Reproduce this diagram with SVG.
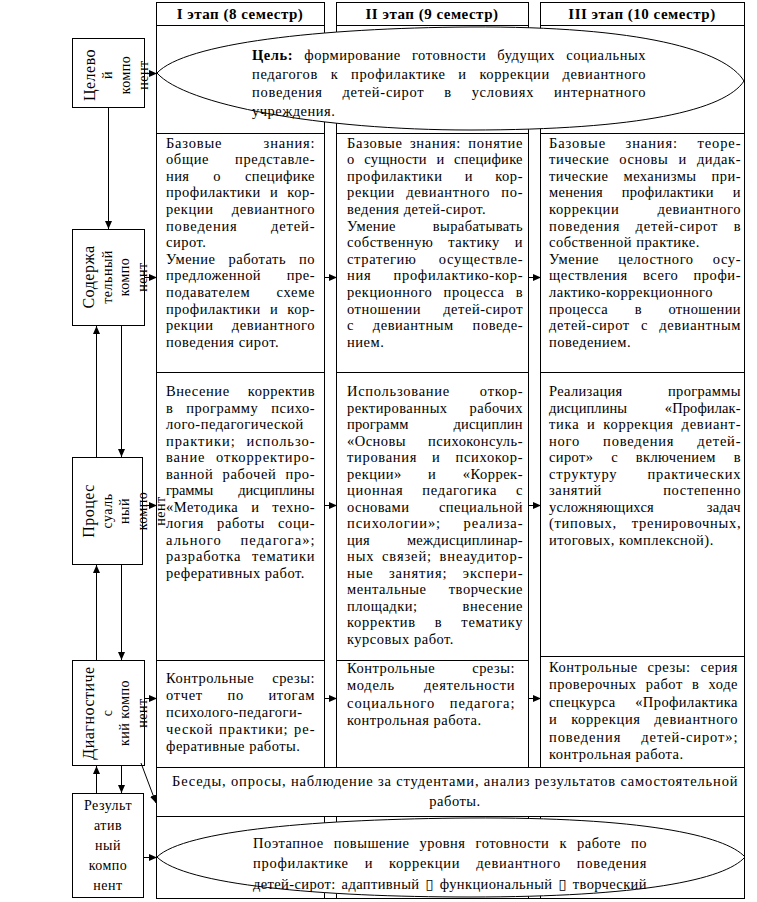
<svg xmlns="http://www.w3.org/2000/svg" width="757" height="902" viewBox="0 0 757 902">
<defs>
<marker id="ah" viewBox="0 0 8 8" refX="8" refY="4" markerWidth="8" markerHeight="8" markerUnits="userSpaceOnUse" orient="auto"><path d="M0,0.5 L8,4 L0,7.5 z" fill="#000"/></marker>
<style>
.bx{fill:#fff;stroke:#000;stroke-width:1}
.el{fill:#fff;stroke:#000;stroke-width:1}
text{font-family:"Liberation Serif","Tinos","DejaVu Serif","Noto Serif",serif;font-weight:normal;font-style:normal}
.b{font-size:14.5px;letter-spacing:0.5px;fill:#000}
.h{font-size:15px;font-weight:bold;letter-spacing:0.5px;fill:#000;text-anchor:middle}
.r1{font-size:16px;letter-spacing:0.5px;fill:#000;text-anchor:middle}
.r2{font-size:14px;letter-spacing:0.5px;fill:#000;text-anchor:middle}
.a{stroke:#000;stroke-width:1;fill:none;marker-end:url(#ah)}
</style>
</defs>
<rect width="757" height="902" fill="#fff"/>

<g id="headers">
<g id="header-1"><rect class="bx" x="156.5" y="2.5" width="168" height="23"/><text class="h" x="240" y="19">I этап (8 семестр)</text></g>
<g id="header-2"><rect class="bx" x="336.5" y="2.5" width="192" height="23"/><text class="h" x="432" y="19">II этап (9 семестр)</text></g>
<g id="header-3"><rect class="bx" x="540.5" y="2.5" width="204" height="23"/><text class="h" x="642" y="19">III этап (10 семестр)</text></g>
</g>

<g id="column-frames">
<rect class="bx" x="156.5" y="25.5" width="168" height="108"/>
<rect class="bx" x="336.5" y="25.5" width="192" height="108"/>
<rect class="bx" x="540.5" y="25.5" width="204" height="108"/>
</g>

<g id="goal">
<path class="el" d="M157,73 C185,43 320,28 470,27 C640,26 725,50 744,81 C725,110 640,130 470,130 C320,130 185,105 157,73 Z"/>
<text class="b" x="252" y="60" textLength="394" lengthAdjust="spacing" style="word-spacing:7px"><tspan style="font-weight:bold">Цель:</tspan> формирование готовности будущих социальных</text>
<text class="b" x="252" y="78.5" textLength="394" lengthAdjust="spacing" style="word-spacing:8.5px">педагогов к профилактике и коррекции девиантного</text>
<text class="b" x="252" y="97" textLength="394" lengthAdjust="spacing" style="word-spacing:15.5px">поведения детей-сирот в условиях интернатного</text>
<text class="b" x="252" y="115.5">учреждения.</text>
</g>

<g id="content-1">
<rect class="bx" x="156.5" y="133.5" width="168" height="239"/>
<text class="b" x="166" y="147.5" textLength="149" lengthAdjust="spacing" style="word-spacing:37px">Базовые знания:</text>
<text class="b" x="166" y="164.1" textLength="149" lengthAdjust="spacing" style="word-spacing:21.7px">общие представле-</text>
<text class="b" x="166" y="180.7" textLength="149" lengthAdjust="spacing" style="word-spacing:20px">ния о специфике</text>
<text class="b" x="166" y="197.3" textLength="149" lengthAdjust="spacing" style="word-spacing:5px">профилактики и кор-</text>
<text class="b" x="166" y="213.9" textLength="149" lengthAdjust="spacing" style="word-spacing:14px">рекции девиантного</text>
<text class="b" x="166" y="230.5" textLength="149" lengthAdjust="spacing" style="word-spacing:29px">поведения детей-</text>
<text class="b" x="166" y="247.1">сирот.</text>
<text class="b" x="166" y="263.7" textLength="149" lengthAdjust="spacing" style="word-spacing:8.8px">Умение работать по</text>
<text class="b" x="166" y="280.3" textLength="149" lengthAdjust="spacing" style="word-spacing:21.7px">предложенной пре-</text>
<text class="b" x="166" y="296.9" textLength="149" lengthAdjust="spacing" style="word-spacing:21.7px">подавателем схеме</text>
<text class="b" x="166" y="313.5" textLength="149" lengthAdjust="spacing" style="word-spacing:5px">профилактики и кор-</text>
<text class="b" x="166" y="330.1" textLength="149" lengthAdjust="spacing" style="word-spacing:14px">рекции девиантного</text>
<text class="b" x="166" y="346.7">поведения сирот.</text>
</g>

<g id="content-2">
<rect class="bx" x="336.5" y="133.5" width="192" height="239"/>
<text class="b" x="347" y="147.5" textLength="176" lengthAdjust="spacing" style="word-spacing:3px">Базовые знания: понятие</text>
<text class="b" x="347" y="164.1" textLength="176" lengthAdjust="spacing" style="word-spacing:5.8px">о сущности и специфике</text>
<text class="b" x="347" y="180.7" textLength="176" lengthAdjust="spacing" style="word-spacing:18px">профилактики и кор-</text>
<text class="b" x="347" y="197.3" textLength="176" lengthAdjust="spacing" style="word-spacing:7px">рекции девиантного по-</text>
<text class="b" x="347" y="213.9">ведения детей-сирот.</text>
<text class="b" x="347" y="230.5" textLength="176" lengthAdjust="spacing" style="word-spacing:33px">Умение вырабатывать</text>
<text class="b" x="347" y="247.1" textLength="176" lengthAdjust="spacing" style="word-spacing:10.7px">собственную тактику и</text>
<text class="b" x="347" y="263.7" textLength="176" lengthAdjust="spacing" style="word-spacing:18px">стратегию осуществле-</text>
<text class="b" x="347" y="280.3" textLength="176" lengthAdjust="spacing" style="word-spacing:18px">ния профилактико-кор-</text>
<text class="b" x="347" y="296.9" textLength="176" lengthAdjust="spacing" style="word-spacing:7px">рекционного процесса в</text>
<text class="b" x="347" y="313.5" textLength="176" lengthAdjust="spacing" style="word-spacing:18px">отношении детей-сирот</text>
<text class="b" x="347" y="330.1" textLength="176" lengthAdjust="spacing" style="word-spacing:14.6px">с девиантным поведе-</text>
<text class="b" x="347" y="346.7">нием.</text>
</g>

<g id="content-3">
<rect class="bx" x="540.5" y="133.5" width="204" height="239"/>
<text class="b" x="549" y="147.5" textLength="192" lengthAdjust="spacing" style="word-spacing:15px">Базовые знания: теоре-</text>
<text class="b" x="549" y="164.1" textLength="192" lengthAdjust="spacing" style="word-spacing:6px">тические основы и дидак-</text>
<text class="b" x="549" y="180.7" textLength="192" lengthAdjust="spacing" style="word-spacing:11px">тические механизмы при-</text>
<text class="b" x="549" y="197.3" textLength="192" lengthAdjust="spacing" style="word-spacing:15px">менения профилактики и</text>
<text class="b" x="549" y="213.9" textLength="192" lengthAdjust="spacing" style="word-spacing:34px">коррекции девиантного</text>
<text class="b" x="549" y="230.5" textLength="192" lengthAdjust="spacing" style="word-spacing:11px">поведения детей-сирот в</text>
<text class="b" x="549" y="247.1">собственной практике.</text>
<text class="b" x="549" y="263.7" textLength="192" lengthAdjust="spacing" style="word-spacing:15px">Умение целостного осу-</text>
<text class="b" x="549" y="280.3" textLength="192" lengthAdjust="spacing" style="word-spacing:11px">ществления всего профи-</text>
<text class="b" x="549" y="296.9">лактико-коррекционного</text>
<text class="b" x="549" y="313.5" textLength="192" lengthAdjust="spacing" style="word-spacing:22.6px">процесса в отношении</text>
<text class="b" x="549" y="330.1" textLength="192" lengthAdjust="spacing" style="word-spacing:7px">детей-сирот с девиантным</text>
<text class="b" x="549" y="346.7">поведением.</text>
</g>

<g id="process-1">
<rect class="bx" x="156.5" y="372.5" width="168" height="288"/>
<text class="b" x="166" y="396" textLength="149" lengthAdjust="spacing" style="word-spacing:14px">Внесение корректив</text>
<text class="b" x="166" y="412.5" textLength="149" lengthAdjust="spacing" style="word-spacing:8.8px">в программу психо-</text>
<text class="b" x="166" y="429">лого-педагогической</text>
<text class="b" x="166" y="445.5" textLength="149" lengthAdjust="spacing" style="word-spacing:6.3px">практики; использо-</text>
<text class="b" x="166" y="462" textLength="149" lengthAdjust="spacing" style="word-spacing:6.3px">вание откорректиро-</text>
<text class="b" x="166" y="478.5" textLength="149" lengthAdjust="spacing" style="word-spacing:5px">ванной рабочей про-</text>
<text class="b" x="166" y="495" textLength="149" lengthAdjust="spacing" style="word-spacing:21.7px">граммы дисциплины</text>
<text class="b" x="166" y="511.5" textLength="149" lengthAdjust="spacing" style="word-spacing:8.8px">«Методика и техно-</text>
<text class="b" x="166" y="528" textLength="149" lengthAdjust="spacing" style="word-spacing:8.8px">логия работы соци-</text>
<text class="b" x="166" y="544.5" textLength="149" lengthAdjust="spacing" style="word-spacing:14px">ального педагога»;</text>
<text class="b" x="166" y="561" textLength="149" lengthAdjust="spacing" style="word-spacing:6.3px">разработка тематики</text>
<text class="b" x="166" y="577.5">реферативных работ.</text>
</g>

<g id="process-2">
<rect class="bx" x="336.5" y="372.5" width="192" height="288"/>
<text class="b" x="347" y="396" textLength="176" lengthAdjust="spacing" style="word-spacing:25.6px">Использование откор-</text>
<text class="b" x="347" y="412.5" textLength="176" lengthAdjust="spacing" style="word-spacing:18px">ректированных рабочих</text>
<text class="b" x="347" y="429" textLength="176" lengthAdjust="spacing" style="word-spacing:41px">программ дисциплин</text>
<text class="b" x="347" y="445.5" textLength="176" lengthAdjust="spacing" style="word-spacing:18px">«Основы психоконсуль-</text>
<text class="b" x="347" y="462" textLength="176" lengthAdjust="spacing" style="word-spacing:10.7px">тирования и психокор-</text>
<text class="b" x="347" y="478.5" textLength="176" lengthAdjust="spacing" style="word-spacing:22.3px">рекции» и «Коррек-</text>
<text class="b" x="347" y="495" textLength="176" lengthAdjust="spacing" style="word-spacing:14.6px">ционная педагогика с</text>
<text class="b" x="347" y="511.5" textLength="176" lengthAdjust="spacing" style="word-spacing:25.6px">основами специальной</text>
<text class="b" x="347" y="528" textLength="176" lengthAdjust="spacing" style="word-spacing:18px">психологии»; реализа-</text>
<text class="b" x="347" y="544.5" textLength="176" lengthAdjust="spacing" style="word-spacing:33px">ция междисциплинар-</text>
<text class="b" x="347" y="561" textLength="176" lengthAdjust="spacing" style="word-spacing:3px">ных связей; внеаудитор-</text>
<text class="b" x="347" y="577.5" textLength="176" lengthAdjust="spacing" style="word-spacing:10.7px">ные занятия; экспери-</text>
<text class="b" x="347" y="594" textLength="176" lengthAdjust="spacing" style="word-spacing:18px">ментальные творческие</text>
<text class="b" x="347" y="610.5" textLength="176" lengthAdjust="spacing" style="word-spacing:41px">площадки; внесение</text>
<text class="b" x="347" y="627" textLength="176" lengthAdjust="spacing" style="word-spacing:14.6px">корректив в тематику</text>
<text class="b" x="347" y="643.5">курсовых работ.</text>
</g>

<g id="process-3">
<rect class="bx" x="540.5" y="372.5" width="204" height="284"/>
<text class="b" x="549" y="396" textLength="192" lengthAdjust="spacing" style="word-spacing:41.6px">Реализация программы</text>
<text class="b" x="549" y="412.5" textLength="192" lengthAdjust="spacing" style="word-spacing:34px">дисциплины «Профилак-</text>
<text class="b" x="549" y="429" textLength="192" lengthAdjust="spacing" style="word-spacing:3.4px">тика и коррекция девиант-</text>
<text class="b" x="549" y="445.5" textLength="192" lengthAdjust="spacing" style="word-spacing:18.7px">ного поведения детей-</text>
<text class="b" x="549" y="462" textLength="192" lengthAdjust="spacing" style="word-spacing:13.7px">сирот» с включением в</text>
<text class="b" x="549" y="478.5" textLength="192" lengthAdjust="spacing" style="word-spacing:26px">структуру практических</text>
<text class="b" x="549" y="495" textLength="192" lengthAdjust="spacing" style="word-spacing:57px">занятий постепенно</text>
<text class="b" x="549" y="511.5" textLength="192" lengthAdjust="spacing" style="word-spacing:49px">усложняющихся задач</text>
<text class="b" x="549" y="528" textLength="192" lengthAdjust="spacing" style="word-spacing:10.8px">(типовых, тренировочных,</text>
<text class="b" x="549" y="544.5">итоговых, комплексной).</text>
</g>

<g id="diag-1">
<rect class="bx" x="156.5" y="660.5" width="168" height="107"/>
<text class="b" x="166" y="683" textLength="149" lengthAdjust="spacing" style="word-spacing:14px">Контрольные срезы:</text>
<text class="b" x="166" y="700" textLength="149" lengthAdjust="spacing" style="word-spacing:20.3px">отчет по итогам</text>
<text class="b" x="166" y="717">психолого-педагоги-</text>
<text class="b" x="166" y="734" textLength="149" lengthAdjust="spacing" style="word-spacing:1px">ческой практики; ре-</text>
<text class="b" x="166" y="751">феративные работы.</text>
</g>

<g id="diag-2">
<rect class="bx" x="336.5" y="660.5" width="192" height="107"/>
<text class="b" x="347" y="673" textLength="168" lengthAdjust="spacing" style="word-spacing:33px">Контрольные срезы:</text>
<text class="b" x="347" y="690.3" textLength="168" lengthAdjust="spacing" style="word-spacing:25px">модель деятельности</text>
<text class="b" x="347" y="707.6" textLength="168" lengthAdjust="spacing" style="word-spacing:10px">социального педагога;</text>
<text class="b" x="347" y="725">контрольная работа.</text>
</g>

<g id="diag-3">
<rect class="bx" x="540.5" y="656.5" width="204" height="111"/>
<text class="b" x="549" y="672" textLength="189" lengthAdjust="spacing" style="word-spacing:5.7px">Контрольные срезы: серия</text>
<text class="b" x="549" y="689.4" textLength="189" lengthAdjust="spacing" style="word-spacing:5px">проверочных работ в ходе</text>
<text class="b" x="549" y="706.8" textLength="189" lengthAdjust="spacing" style="word-spacing:15.5px">спецкурса «Профилактика</text>
<text class="b" x="549" y="724.2" textLength="189" lengthAdjust="spacing" style="word-spacing:9.5px">и коррекция девиантного</text>
<text class="b" x="549" y="741.6" textLength="189" lengthAdjust="spacing" style="word-spacing:15.5px">поведения детей-сирот»;</text>
<text class="b" x="549" y="759">контрольная работа.</text>
</g>

<g id="methods">
<rect class="bx" x="156.5" y="767.5" width="588" height="49"/>
<text class="b" x="455" y="786" text-anchor="middle" textLength="566" lengthAdjust="spacing">Беседы, опросы, наблюдение за студентами, анализ результатов самостоятельной</text>
<text class="b" x="455" y="806" text-anchor="middle">работы.</text>
</g>

<g id="result">
<rect class="bx" x="156.5" y="816.5" width="588" height="82"/>
<rect class="bx" x="156.5" y="816.5" width="168" height="82"/>
<rect class="bx" x="336.5" y="816.5" width="192" height="82"/>
<rect class="bx" x="540.5" y="816.5" width="204" height="82"/>
<path class="el" d="M157,857 C185,830 320,819 470,818 C640,817 725,835 745,857 C725,880 640,897 470,897 C320,897 185,885 157,857 Z"/>
<text class="b" x="253" y="848" textLength="394" lengthAdjust="spacing" style="word-spacing:6px">Поэтапное повышение уровня готовности к работе по</text>
<text class="b" x="253" y="868" textLength="394" lengthAdjust="spacing" style="word-spacing:11.6px">профилактике и коррекции девиантного поведения</text>
<text class="b" x="253" y="889" textLength="394" lengthAdjust="spacing" style="word-spacing:2px">детей-сирот: адаптивный ▯ функциональный ▯ творческий</text>
</g>

<g id="comp-goal">
<rect class="bx" x="72.5" y="38.5" width="72" height="69"/>
<text class="r1" transform="translate(95,75) rotate(-90)">Целево</text>
<text class="r2" transform="translate(112,75) rotate(-90)">й</text>
<text class="r2" transform="translate(130,75) rotate(-90)">компо</text>
<text class="r2" transform="translate(148,75) rotate(-90)">нент</text>
</g>

<g id="comp-content">
<rect class="bx" x="72.5" y="229.5" width="72" height="96"/>
<text class="r1" transform="translate(94,277) rotate(-90)">Содержа</text>
<text class="r2" transform="translate(112,277) rotate(-90)">тельный</text>
<text class="r2" transform="translate(129,277) rotate(-90)">компо</text>
<text class="r2" transform="translate(147,277) rotate(-90)">нент</text>
</g>

<g id="comp-process">
<rect class="bx" x="72.5" y="457.5" width="70" height="107"/>
<text class="r1" transform="translate(94,511) rotate(-90)">Процес</text>
<text class="r2" transform="translate(112,511) rotate(-90)">суаль</text>
<text class="r2" transform="translate(129,511) rotate(-90)">ный</text>
<text class="r2" transform="translate(147,511) rotate(-90)">компо</text>
<text class="r2" transform="translate(165,511) rotate(-90)">нент</text>
</g>

<g id="comp-diag">
<rect class="bx" x="72.5" y="660.5" width="72" height="105"/>
<text class="r1" transform="translate(94,713) rotate(-90)">Диагностиче</text>
<text class="r2" transform="translate(112,713) rotate(-90)">с</text>
<text class="r2" transform="translate(129,713) rotate(-90)">кий компо</text>
<text class="r2" transform="translate(147,713) rotate(-90)">нент</text>
</g>

<g id="comp-result">
<rect class="bx" x="72.5" y="793.5" width="71" height="104"/>
<text class="r2" x="108" y="810">Результ</text>
<text class="r2" x="108" y="830">атив</text>
<text class="r2" x="108" y="850">ный</text>
<text class="r2" x="108" y="870">компо</text>
<text class="r2" x="108" y="890">нент</text>
</g>

<g id="connectors">
<line class="a" x1="145" y1="73.5" x2="157" y2="73.5"/>
<line class="a" x1="108.5" y1="108" x2="108.5" y2="229"/>
<line class="a" x1="145" y1="277.5" x2="157" y2="277.5"/>
<line class="a" x1="325" y1="277.5" x2="337" y2="277.5"/>
<line class="a" x1="529" y1="277.5" x2="541" y2="277.5"/>
<line class="a" x1="96.5" y1="457" x2="96.5" y2="326"/>
<line class="a" x1="121.5" y1="326" x2="121.5" y2="457"/>
<line class="a" x1="143" y1="505.5" x2="157" y2="505.5"/>
<line class="a" x1="325" y1="505.5" x2="337" y2="505.5"/>
<line class="a" x1="529" y1="505.5" x2="541" y2="505.5"/>
<line class="a" x1="96.5" y1="660" x2="96.5" y2="565"/>
<line class="a" x1="121.5" y1="565" x2="121.5" y2="660"/>
<line class="a" x1="145" y1="698.5" x2="157" y2="698.5"/>
<line class="a" x1="325" y1="698.5" x2="337" y2="698.5"/>
<line class="a" x1="529" y1="698.5" x2="541" y2="698.5"/>
<line class="a" x1="96.5" y1="793" x2="96.5" y2="766"/>
<line class="a" x1="121.5" y1="766" x2="121.5" y2="793"/>
<line class="a" x1="141" y1="763" x2="156" y2="803"/>
<line class="a" x1="144" y1="857.5" x2="157" y2="857.5"/>
</g>
</svg>
